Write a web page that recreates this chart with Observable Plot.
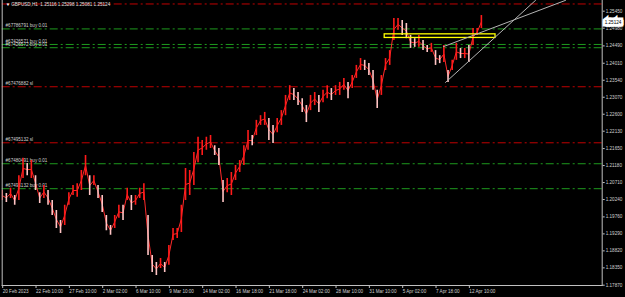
<!DOCTYPE html>
<html><head><meta charset="utf-8">
<script src="https://cdn.jsdelivr.net/npm/d3@7"></script>
<script src="https://cdn.jsdelivr.net/npm/@observablehq/plot@0.6"></script>
<style>
html,body{margin:0;padding:0;background:#000;}
#chart{width:625px;height:297px;overflow:hidden;}
</style></head><body><div id="chart"></div>
<script>
// price bar ranges (each sample = bar group)
const highs = [1.2049,1.2041,1.2055,1.2035,1.2090,1.2138,1.2124,1.2132,1.2090,1.2043,
1.2063,1.2049,1.2021,1.1994,1.1966,1.2008,1.2043,1.2063,1.2068,1.2104,
1.2146,1.2090,1.2090,1.2063,1.2035,1.1980,1.1952,1.1980,1.2008,1.2008,
1.2055,1.2035,1.2035,1.2055,1.2068,1.1980,1.1869,1.1850,1.1861,1.1850,
1.1897,1.1944,1.1944,1.2008,1.2110,1.2104,1.2154,1.2196,1.2187,1.2196,
1.2201,1.2173,1.2165,1.2077,1.2082,1.2099,1.2118,1.2132,1.2173,1.2215,
1.2201,1.2243,1.2256,1.2265,1.2248,1.2229,1.2248,1.2270,1.2312,1.2339,
1.2331,1.2320,1.2303,1.2284,1.2312,1.2320,1.2312,1.2326,1.2339,1.2331,
1.2339,1.2348,1.2359,1.2348,1.2367,1.2395,1.2414,1.2409,1.2400,1.2381,
1.2326,1.2367,1.2414,1.2436,1.2525,1.2525,1.2519,1.2511,1.2478,1.2469,
1.2478,1.2464,1.2450,1.2456,1.2436,1.2422,1.2450,1.2381,1.2409,1.2456,
1.2442,1.2442,1.2450,1.2497,1.2497,1.2533];
const lows = [1.2021,1.2016,1.2027,1.2008,1.2021,1.2082,1.2090,1.2082,1.2049,1.2013,
1.2027,1.2008,1.1980,1.1944,1.1930,1.1952,1.2008,1.2035,1.2030,1.2049,
1.2090,1.2035,1.2063,1.2027,1.1988,1.1938,1.1925,1.1944,1.1972,1.1966,
1.2021,1.1994,1.2008,1.2027,1.2021,1.1869,1.1822,1.1814,1.1833,1.1822,
1.1842,1.1911,1.1916,1.1933,1.2021,1.2035,1.2063,1.2126,1.2146,1.2160,
1.2165,1.2146,1.2118,1.2016,1.2043,1.2035,1.2077,1.2099,1.2118,1.2160,
1.2173,1.2201,1.2229,1.2229,1.2187,1.2179,1.2209,1.2229,1.2256,1.2298,
1.2298,1.2284,1.2265,1.2237,1.2270,1.2284,1.2265,1.2292,1.2303,1.2298,
1.2312,1.2312,1.2326,1.2303,1.2331,1.2359,1.2381,1.2381,1.2367,1.2326,
1.2276,1.2312,1.2381,1.2395,1.2464,1.2492,1.2478,1.2469,1.2442,1.2445,
1.2445,1.2436,1.2431,1.2431,1.2395,1.2400,1.2403,1.2348,1.2381,1.2409,
1.2414,1.2414,1.2403,1.2450,1.2478,1.2497];
const lastPrice = 1.25124;
const titleText = "GBPUSD,H1  1.25116 1.25298 1.25081 1.25124";
const xTickIndex = [0,8,16,24,32,40,48,56,64,72,80,88,96,104,112];
const xTickLabels = ["20 Feb 2023","22 Feb 10:00","27 Feb 10:00","2 Mar 02:00","6 Mar 10:00","9 Mar 10:00","14 Mar 02:00","16 Mar 18:00","21 Mar 18:00","24 Mar 02:00","28 Mar 10:00","31 Mar 10:00","5 Apr 02:00","7 Apr 18:00","12 Apr 10:00"];
const yTicks = [1.25450,1.24980,1.24490,1.24010,1.23540,1.23070,1.22600,1.22130,1.21650,1.21180,1.20710,1.20240,1.19760,1.19290,1.18820,1.18350,1.17870];
const levelPrices = [1.2565,1.2496,1.2453,1.2444,1.2336,1.2181,1.2123,1.2054];
const levelKinds = ["sl","buy","buy","buy","sl","sl","buy","buy"];
const levelLabels = ["","#67786791 buy 0.01","#67426571 buy 0.01","#67426572 buy 0.01","#67476882 sl","#67495132 sl","#67480491 buy 0.01","#67495132 buy 0.01"];
const boxIdx = [91.8, 118.4];
const boxPrice = [1.2471, 1.2481];
const trend1Idx = [105.9, 135.2];
const trend1Price = [1.2447, 1.2575];
const trend2Idx = [106.4, 128.0];
const trend2Price = [1.2348, 1.2575];

const bars = highs.map((h, i) => {
  const mid = (h + lows[i]) / 2;
  const prev = i > 0 ? (highs[i-1] + lows[i-1]) / 2 : mid;
  return {i, hi: h, lo: lows[i], mid, up: mid >= prev};
});
const levels = levelPrices.map((p, i) => ({p, kind: levelKinds[i], label: levelLabels[i]}));
const trend1 = trend1Idx.map((x, i) => ({x, p: trend1Price[i]}));
const trend2 = trend2Idx.map((x, i) => ({x, p: trend2Price[i]}));

const font = "'Liberation Sans', Arial, sans-serif";
const fs = 4.6;
const chart = Plot.plot({
  width: 625, height: 297,
  marginLeft: 1.7, marginRight: 23.3, marginTop: 0, marginBottom: 12,
  style: {background: "#000", color: "#c8c8c8", fontFamily: font, fontSize: fs + "px"},
  x: {domain: [0, 144], axis: null},
  y: {domain: [1.17862, 1.25746], axis: null},
  marks: [
    Plot.ruleY(levels, {y: "p", stroke: d => d.kind === "sl" ? "#c00000" : "#1e9a1e", strokeDasharray: "8,3,2,3", strokeWidth: 1}),
    Plot.text(levels, {x: 0.8, y: "p", text: "label", textAnchor: "start", dy: -3.2, fill: "#d0d0d0", fontSize: fs}),
    Plot.line(bars, {x: "i", y: "mid", stroke: "#ff2a2a", strokeWidth: 1, clip: true}),
    Plot.ruleX(bars, {x: "i", y1: "lo", y2: "hi", stroke: d => d.up ? "#ff1a1a" : "#ffc4c4", strokeWidth: 1.6, clip: true}),
    Plot.rect([0], {x1: () => boxIdx[0], x2: () => boxIdx[1], y1: () => boxPrice[0], y2: () => boxPrice[1], stroke: "#ffff00", fill: "none", strokeWidth: 1.3}),
    Plot.line(trend1, {x: "x", y: "p", stroke: "#b4b4b4", strokeWidth: 1, clip: true}),
    Plot.line(trend2, {x: "x", y: "p", stroke: "#b4b4b4", strokeWidth: 1, clip: true}),
    Plot.frame({anchor: "left", stroke: "#c0c0c0"}),
    Plot.frame({anchor: "bottom", stroke: "#c0c0c0"}),
    Plot.frame({anchor: "right", stroke: "#c0c0c0"}),
    Plot.axisY({anchor: "right", ticks: yTicks, tickFormat: d => d.toFixed(5), tickSize: 2, tickPadding: 1.5, stroke: "#c0c0c0", fill: "#d0d0d0", fontSize: fs}),
    Plot.axisX({anchor: "bottom", ticks: xTickIndex, tickFormat: (d, i) => xTickLabels[i], tickSize: 3, tickPadding: 1, textAnchor: "start", dx: 0.5, stroke: "#c0c0c0", fill: "#d0d0d0", fontSize: fs}),
    Plot.text([lastPrice], {y: d => d, frameAnchor: "right", text: d => d.toFixed(5), textAnchor: "start", dx: 2.5, fill: "#000", stroke: "#fff", strokeWidth: 5, strokeLinejoin: "miter", paintOrder: "stroke", fontSize: fs}),
    Plot.text([titleText], {frameAnchor: "top-left", text: d => d, dx: 9, dy: 2.5, fill: "#e0e0e0", fontSize: fs, textAnchor: "start"}),
    Plot.text(["▼"], {frameAnchor: "top-left", text: d => d, dx: 3.5, dy: 2.5, fill: "#ffffff", fontSize: 4.5, textAnchor: "start"})
  ]
});
document.getElementById("chart").appendChild(chart);
</script></body></html>
